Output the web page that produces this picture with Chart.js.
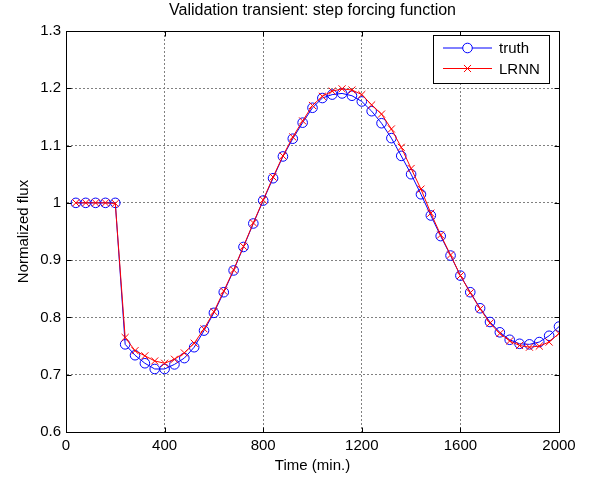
<!DOCTYPE html>
<html>
<head>
<meta charset="utf-8">
<script src="https://cdn.jsdelivr.net/npm/chart.js@4/dist/chart.umd.min.js"></script>
<style>
  html, body { margin: 0; padding: 0; background: #ffffff; }
  #wrap { width: 598px; height: 486px; }
</style>
</head>
<body>
<div id="wrap"><canvas id="c" width="598" height="486"></canvas></div>
<script>
// ---- data ----
const times = [40, 80, 120, 160, 200, 240, 280, 320, 360, 400,
               440, 480, 520, 560, 600, 640, 680, 720, 760, 800,
               840, 880, 920, 960, 1000, 1040, 1080, 1120, 1160, 1200,
               1240, 1280, 1320, 1360, 1400, 1440, 1480, 1520, 1560, 1600,
               1640, 1680, 1720, 1760, 1800, 1840, 1880, 1920, 1960, 2000];
const truth = [1.000, 1.000, 1.000, 1.000, 1.000, 0.753, 0.734, 0.720, 0.710, 0.710,
               0.718, 0.729, 0.748, 0.777, 0.808, 0.844, 0.882, 0.923, 0.964, 1.004,
               1.043, 1.081, 1.112, 1.140, 1.166, 1.183, 1.189, 1.191, 1.187, 1.177,
               1.160, 1.139, 1.113, 1.082, 1.050, 1.015, 0.978, 0.942, 0.908, 0.873,
               0.844, 0.816, 0.792, 0.774, 0.761, 0.754, 0.753, 0.757, 0.768, 0.784];
const lrnn  = [1.000, 1.000, 1.000, 1.000, 0.999, 0.765, 0.742, 0.733, 0.724, 0.720,
               0.727, 0.738, 0.755, 0.780, 0.810, 0.846, 0.883, 0.924, 0.965, 1.005,
               1.045, 1.082, 1.115, 1.143, 1.170, 1.186, 1.195, 1.199, 1.197, 1.189,
               1.171, 1.155, 1.129, 1.097, 1.060, 1.024, 0.982, 0.944, 0.909, 0.873,
               0.843, 0.815, 0.790, 0.772, 0.759, 0.751, 0.748, 0.750, 0.757, 0.772];
const xTicks = [0, 400, 800, 1200, 1600, 2000];
const yTicks = [0.6, 0.7, 0.8, 0.9, 1, 1.1, 1.2, 1.3];
const seriesNames = ['truth', 'LRNN'];
const titleText = 'Validation transient: step forcing function';
const xTitle = 'Time (min.)';
const yTitle = 'Normalized flux';

const FONT = 'Liberation Sans, Arial, Helvetica, sans-serif';

// box + inner ticks (MATLAB style) and in-plot legend
const boxPlugin = {
  id: 'boxPlugin',
  afterDatasetsDraw(chart) {
    const {ctx, chartArea: a, scales} = chart;
    ctx.save();
    ctx.strokeStyle = '#000';
    ctx.lineWidth = 1;
    ctx.beginPath();
    const L = Math.round(a.left) + 0.5, R = Math.round(a.right) + 0.5;
    const T = Math.round(a.top) + 0.5, B = Math.round(a.bottom) + 0.5;
    ctx.rect(L, T, R - L, B - T);
    const tl = 5;
    xTicks.forEach(v => {
      const px = Math.round(scales.x.getPixelForValue(v)) + 0.5;
      ctx.moveTo(px, B); ctx.lineTo(px, B - tl);
      ctx.moveTo(px, T); ctx.lineTo(px, T + tl);
    });
    yTicks.forEach(v => {
      const py = Math.round(scales.y.getPixelForValue(v)) + 0.5;
      ctx.moveTo(L, py); ctx.lineTo(L + tl, py);
      ctx.moveTo(R, py); ctx.lineTo(R - tl, py);
    });
    ctx.stroke();

    const lx0 = 433.5, lx1 = 549.5, ly0 = 35.5, ly1 = 83.5;
    ctx.fillStyle = '#fff';
    ctx.fillRect(lx0, ly0, lx1 - lx0, ly1 - ly0);
    ctx.strokeStyle = '#000';
    ctx.lineWidth = 1;
    ctx.strokeRect(lx0, ly0, lx1 - lx0, ly1 - ly0);
    const rows = [48, 68.5];
    chart.data.datasets.forEach((ds, i) => {
      const y = rows[i];
      ctx.strokeStyle = ds.borderColor;
      ctx.lineWidth = 1;
      ctx.beginPath();
      ctx.moveTo(443, y); ctx.lineTo(492, y);
      ctx.stroke();
      Chart.helpers.drawPoint(ctx, {
        pointStyle: ds.pointStyle, radius: ds.pointRadius, rotation: 0,
        borderWidth: 1
      }, 467.5, y);
      ctx.fillStyle = '#000';
      ctx.font = '15px ' + FONT;
      ctx.textAlign = 'left';
      ctx.textBaseline = 'middle';
      ctx.fillText(ds.label, 499, y + 1);
    });
    ctx.restore();
  }
};

const ctx = document.getElementById('c').getContext('2d');
const chart = new Chart(ctx, {
  type: 'line',
  data: {
    datasets: [
      {
        label: seriesNames[0],
        data: times.map((t, i) => ({x: t, y: truth[i]})),
        borderColor: '#0000ff',
        backgroundColor: 'rgba(0,0,0,0)',
        borderWidth: 1,
        pointStyle: 'circle',
        pointRadius: 4.8,
        pointBorderColor: '#0000ff',
        pointBackgroundColor: 'rgba(0,0,0,0)',
        pointBorderWidth: 1,
        tension: 0,
        order: 2
      },
      {
        label: seriesNames[1],
        data: times.map((t, i) => ({x: t, y: lrnn[i]})),
        borderColor: '#ff0000',
        backgroundColor: 'rgba(0,0,0,0)',
        borderWidth: 1,
        pointStyle: 'crossRot',
        pointRadius: 5,
        pointBorderColor: '#ff0000',
        pointBackgroundColor: 'rgba(0,0,0,0)',
        pointBorderWidth: 1,
        tension: 0,
        order: 1
      }
    ]
  },
  options: {
    responsive: false,
    animation: false,
    devicePixelRatio: 1,
    layout: { padding: { left: 0, right: 39, top: 0, bottom: 0 } },
    plugins: {
      legend: { display: false },
      tooltip: { enabled: false },
      title: {
        display: true,
        text: titleText,
        fullSize: false,
        color: '#000',
        font: { family: FONT, size: 16, weight: 'normal', lineHeight: 1.2 },
        padding: { top: 1, bottom: 10.8 }
      }
    },
    scales: {
      x: {
        type: 'linear',
        min: 0, max: 2000,
        afterBuildTicks: s => { s.ticks = xTicks.map(v => ({value: v})); },
        afterFit: s => { s.height = 54; },
        ticks: {
          color: '#000',
          font: { family: FONT, size: 15 },
          padding: 5,
          maxRotation: 0,
          autoSkip: false,
          callback: v => String(v)
        },
        grid: { color: '#808080', lineWidth: 1, drawTicks: false },
        border: { display: true, color: '#000', width: 1, dash: [2, 2] },
        title: {
          display: true, text: xTitle, color: '#000',
          font: { family: FONT, size: 15, lineHeight: 1.2 },
          padding: { top: 0, bottom: 11 }
        }
      },
      y: {
        type: 'linear',
        min: 0.6, max: 1.3,
        afterBuildTicks: s => { s.ticks = yTicks.map(v => ({value: v})); },
        afterFit: s => { s.width = 66; },
        ticks: {
          color: '#000',
          font: { family: FONT, size: 15 },
          padding: 5,
          autoSkip: false,
          callback: v => String(Math.round(v * 10) / 10)
        },
        grid: { color: '#808080', lineWidth: 1, drawTicks: false },
        border: { display: true, color: '#000', width: 1, dash: [2, 2] },
        title: {
          display: true, text: yTitle, color: '#000',
          font: { family: FONT, size: 15, lineHeight: 1.2 },
          padding: { top: 15, bottom: 0 }
        }
      }
    }
  },
  plugins: [boxPlugin]
});
</script>
</body>
</html>
